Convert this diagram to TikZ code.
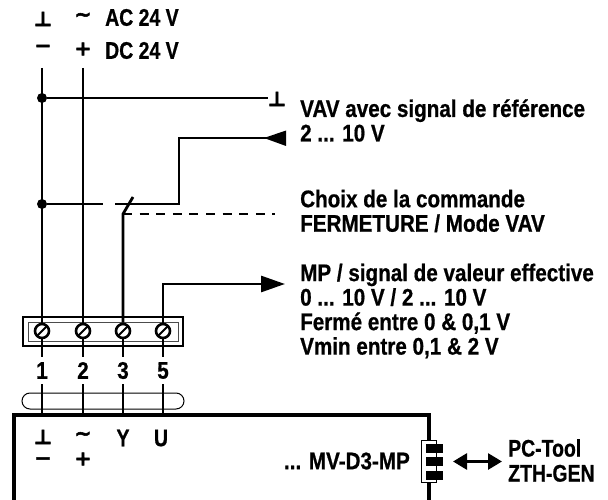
\documentclass[tikz,border=0pt]{standalone}
\usepackage{fontspec}
\usetikzlibrary{arrows.meta}
\newfontfamily\labelfont[FakeStretch=.86,FakeBold=.7]{Liberation Sans Bold}
\newfontfamily\capsfont[FakeStretch=.81,FakeBold=.7]{Liberation Sans Bold}
\newfontfamily\symbfont[FakeBold=2.5]{DejaVu Sans Bold}
\tikzset{
    wire/.style={line width=2.8pt},
    txt/.style={font=\labelfont\fontsize{24}{24.5}\selectfont, inner sep=0pt, align=left},
    capstxt/.style={font=\capsfont\fontsize{24}{25}\selectfont, inner sep=0pt, align=left},
    sym/.style={font=\symbfont\fontsize{20}{20}\selectfont, inner sep=0pt},
    dot/.style={circle, fill=black, minimum size=10pt, inner sep=0pt},
    screw/.style={circle, draw, line width=2.6pt, fill=white, minimum size=14pt, inner sep=0pt,
        path picture={\draw[line width=2pt] (path picture bounding box.south west) -- (path picture bounding box.north east);}},
    pad/.style={fill=black, minimum width=17pt, minimum height=9pt, inner sep=0pt}
}
\begin{document}
\begin{tikzpicture}[x=1pt, y=-1pt]
    \useasboundingbox (0,0) rectangle (608,500);
    % supply
    \node[sym] (acgnd) at (43,19) {⊥};
    \node[sym] (acsym) at (83,17) {\char"223C};
    \node[capstxt, anchor=west] (ac) at (105,17.5) {AC 24 V};
    \node[sym] (dcminus) at (43,48.5) {\char"2212};
    \node[sym] (dcplus) at (83,49) {+};
    \node[capstxt, anchor=west] (dc) at (105,50.5) {DC 24 V};
    % terminal block
    \node[draw, line width=2.6pt, minimum width=160pt, minimum height=29pt] (block) at (103,331.5) {};
    \node[draw, line width=.8pt, black!70, minimum width=150pt, minimum height=19pt] (inner) at (103,331.5) {};
    \node[draw, line width=1pt, rounded corners=8pt, minimum width=162pt, minimum height=16pt] (loop) at (103,401) {};
    \foreach \n/\x in {1/42,2/83,3/123,5/163}
    {
      \node[screw] (t\n) at (\x,331) {};
      \node[txt, minimum height=27pt] (l\n) at (\x,370.5) {\n};
      \coordinate (b\n) at (\x,415);
      \draw[wire] (t\n) -- (l\n);
      \draw[wire] (l\n) -- (b\n);
    }
    \coordinate (top1) at (42,68);
    \coordinate (top2) at (83,68);
    \node[dot] (j1) at (42,98) {};
    \node[dot] (j2) at (42,204) {};
    \draw[wire] (top1) -- (t1);
    \draw[wire] (top2) -- (t2);
    % ground line
    \node[sym] (gnd) at (277,99) {⊥};
    \draw[wire] (j1) -- (j1 -| gnd.west);
    \node[txt, anchor=west] (vav) at (300,120.5) {VAV avec signal de référence\\2 ... 10 V};
    % switch and signal input
    \coordinate (gap1) at (103,204);
    \coordinate (gap2) at (115,204);
    \coordinate (corner) at (179,204);
    \coordinate (swa) at (123,214);
    \coordinate (swb) at (133,197);
    \node[txt, anchor=west] (choix) at (300,211) {Choix de la commande\\FERMETURE / Mode VAV};
    \coordinate (dashend) at (275,214);
    \draw[wire] (j2) -- (gap1);
    \draw[wire] (gap2) -- (corner) -- (179,138) -- (286,138);
    \fill (264,138) -- (286,130.5) -- (286,146) -- cycle;
    \draw[wire] (t3) -- (swa) -- (swb);
    \draw[wire, dashed, dash pattern=on 9pt off 7.6pt] (swa) -- (dashend);
    % output
    \node[txt, anchor=west] (mp) at (300,311) {MP / signal de valeur effective\\0 ... 10 V / 2 ... 10 V\\Fermé entre 0 \& 0,1 V\\Vmin entre 0,1 \& 2 V};
    \draw[wire, -{Triangle[length=24pt, width=16pt]}] (t5) -- (163,284) -- (285,284);
    % actuator
    \draw[line width=4.4pt] (14,500) -- (14,415) -- (429,415) -- (429,500);
    \node[sym] (agnd) at (43,437) {⊥};
    \node[sym] (asym) at (83,436) {\char"223C};
    \node[capstxt] (ay) at (123,438) {Y};
    \node[capstxt] (au) at (161,438) {U};
    \node[sym] (aminus) at (43,461) {\char"2212};
    \node[sym] (aplus) at (83,459) {+};
    \node[txt, anchor=east] (mv) at (410,461) {... MV-D3-MP};
    % connector
    \node[draw, fill=white, line width=1pt, minimum width=15pt, minimum height=42pt, inner sep=0pt] (conn) at (429,461.5) {};
    \node[pad] (p1) at (434.5,448.5) {};
    \node[pad] (p2) at (434.5,461.5) {};
    \node[pad] (p3) at (434.5,475.5) {};
    \node[capstxt, anchor=west] (tool) at (508,460.5) {PC-Tool\\ZTH-GEN};
    \draw[wire, {Triangle[length=14pt, width=16pt]}-{Triangle[length=14pt, width=16pt]}, shorten <=16pt, shorten >=6pt] (conn.east) -- (conn.east -| tool.west);
\end{tikzpicture}
\end{document}
